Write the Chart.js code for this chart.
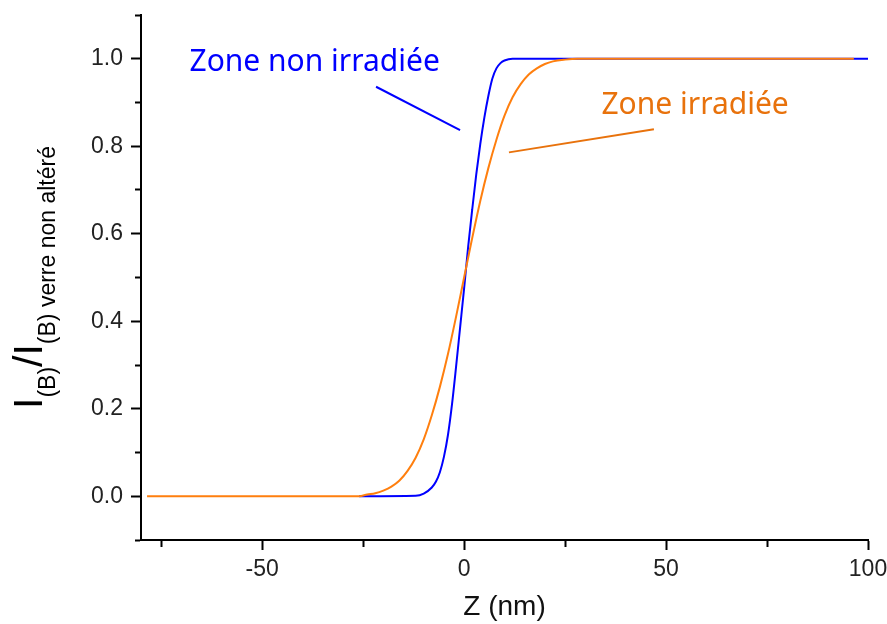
<!DOCTYPE html>
<html>
<head>
<meta charset="utf-8">
<script src="https://cdn.jsdelivr.net/npm/chart.js@4.4.0/dist/chart.umd.min.js"></script>
<style>
  html, body { margin: 0; padding: 0; background: #fff; }
  #wrap { width: 887px; height: 624px; }
</style>
</head>
<body>
<div id="wrap"><canvas id="profileChart"></canvas></div>
<script>
// profiles (Z in nm, normalised intensity)
var blueZ = [-26, -12, -10, -8, -7, -6, -5, -4, -3, -2, -1, 0, 1, 2, 3, 4, 5, 6, 7, 8, 9, 10, 12, 30, 100];
var blueI = [0, 0.001, 0.006, 0.02, 0.033, 0.055, 0.09, 0.14, 0.21, 0.295, 0.385, 0.475, 0.57, 0.655, 0.735, 0.805, 0.865, 0.915, 0.955, 0.978, 0.99, 0.996, 1, 1, 1];

var orangeZ = [-78.5, -26, -24, -22, -20, -18, -16, -14, -12, -10, -8, -6, -4, -2, 0, 2, 4, 6, 8, 10, 12, 14, 16, 18, 20, 22, 25, 28, 96.5];
var orangeI = [0, 0, 0.004, 0.007, 0.013, 0.022, 0.036, 0.058, 0.088, 0.13, 0.185, 0.25, 0.325, 0.41, 0.5, 0.59, 0.675, 0.75, 0.815, 0.87, 0.912, 0.942, 0.964, 0.978, 0.988, 0.994, 0.998, 1, 1];

var seriesNames = ['Zone non irradiée', 'Zone irradiée'];

// text labels and their leader lines, in data units
var noteZ = [-68, 34];
var noteI = [0.972, 0.874];
var leaderBlue = [[-21.8, 0.936], [-1, 0.837]];
var leaderOrange = [[11.1, 0.786], [47, 0.839]];

var BLUE = '#0000ff';
var ORANGE = '#ff7f0e';
var ORANGE_TXT = '#e8720c';

function toPoints(xs, ys) {
    return xs.map((x, i) => ({ x: x, y: ys[i] }));
}

var notesPlugin = {
    id: 'notes',
    afterDraw(chart) {
        var ctx = chart.ctx;
        var sx = chart.scales.x, sy = chart.scales.y;
        ctx.save();
        // leader lines
        var leaders = [[leaderBlue, BLUE], [leaderOrange, ORANGE_TXT]];
        leaders.forEach(function (l) {
            ctx.strokeStyle = l[1];
            ctx.lineWidth = 2;
            ctx.beginPath();
            ctx.moveTo(sx.getPixelForValue(l[0][0][0]), sy.getPixelForValue(l[0][0][1]));
            ctx.lineTo(sx.getPixelForValue(l[0][1][0]), sy.getPixelForValue(l[0][1][1]));
            ctx.stroke();
        });
        // labels
        ctx.font = '30px "Noto Sans"';
        ctx.textBaseline = 'alphabetic';
        ctx.textAlign = 'left';
        [BLUE, ORANGE_TXT].forEach(function (c, i) {
            ctx.fillStyle = c;
            ctx.fillText(seriesNames[i], sx.getPixelForValue(noteZ[i]), sy.getPixelForValue(noteI[i]));
        });

        // y axis title with subscripts, rotated
        var parts = [
            { t: 'I', size: 41, sub: false },
            { t: '(B)', size: 23, sub: true },
            { t: '/', size: 41, sub: false },
            { t: 'I', size: 41, sub: false },
            { t: '(B) verre non altéré', size: 23, sub: true }
        ];
        var total = 0;
        parts.forEach(function (p) {
            ctx.font = p.size + 'px "Liberation Sans", Arial, sans-serif';
            p.w = ctx.measureText(p.t).width;
            total += p.w;
        });
        var cy = (chart.chartArea.top + chart.chartArea.bottom) / 2;
        ctx.translate(42, cy);
        ctx.rotate(-Math.PI / 2);
        ctx.fillStyle = '#000';
        var pos = -total / 2;
        parts.forEach(function (p) {
            ctx.font = p.size + 'px "Liberation Sans", Arial, sans-serif';
            ctx.fillText(p.t, pos, p.sub ? 13 : 0);
            pos += p.w;
        });
        ctx.restore();
    }
};

// minor ticks are drawn as the inner part of a dashed tick
function isMajorX(v) { return Math.abs(v % 50) < 1e-6; }
function isMajorY(v) { return Math.abs(Math.round(v * 10) % 2) === 0; }

var chart = new Chart(document.getElementById('profileChart'), {
    type: 'line',
    data: {
        datasets: [
            {
                label: seriesNames[1],
                data: toPoints(orangeZ, orangeI),
                borderColor: ORANGE,
                borderWidth: 2,
                pointRadius: 0,
                cubicInterpolationMode: 'monotone',
                order: 0
            },
            {
                label: seriesNames[0],
                data: toPoints(blueZ, blueI),
                borderColor: BLUE,
                borderWidth: 2,
                pointRadius: 0,
                cubicInterpolationMode: 'monotone',
                order: 1
            }
        ]
    },
    options: {
        responsive: true,
        maintainAspectRatio: false,
        animation: false,
        layout: { padding: { top: 15, right: 19, left: 0, bottom: 0 } },
        plugins: {
            legend: { display: false },
            tooltip: { enabled: false }
        },
        scales: {
            x: {
                type: 'linear',
                min: -80,
                max: 100,
                border: { color: '#000', width: 2 },
                grid: {
                    drawOnChartArea: false,
                    drawTicks: true,
                    tickLength: 10,
                    tickColor: '#000',
                    tickWidth: 2,
                    tickBorderDash: ctx => isMajorX(ctx.tick.value) ? [] : [6, 20]
                },
                ticks: {
                    stepSize: 25,
                    includeBounds: false,
                    autoSkip: false,
                    maxRotation: 0,
                    padding: 6,
                    color: '#222',
                    font: { family: '"Liberation Sans", Arial, sans-serif', size: 23 },
                    callback: v => isMajorX(v) ? String(v) : ''
                },
                title: {
                    display: true,
                    text: 'Z (nm)',
                    color: '#111',
                    padding: 0,
                    font: { family: '"Liberation Sans", Arial, sans-serif', size: 28 }
                },
                afterFit: s => { s.height = 84; s.paddingLeft = 0; s.paddingRight = 0; }
            },
            y: {
                type: 'linear',
                min: -0.1,
                max: 1.1,
                border: { color: '#000', width: 2 },
                grid: {
                    drawOnChartArea: false,
                    drawTicks: true,
                    tickLength: 10,
                    tickColor: '#000',
                    tickWidth: 2,
                    tickBorderDash: ctx => isMajorY(ctx.tick.value) ? [] : [6, 4],
                    tickBorderDashOffset: ctx => isMajorY(ctx.tick.value) ? 0 : 6
                },
                ticks: {
                    stepSize: 0.1,
                    autoSkip: false,
                    padding: 8,
                    color: '#222',
                    font: { family: '"Liberation Sans", Arial, sans-serif', size: 23 },
                    callback: v => isMajorY(v) ? v.toFixed(1) : ''
                },
                afterFit: s => { s.width = 141; s.paddingTop = 0; s.paddingBottom = 0; }
            }
        }
    },
    plugins: [notesPlugin]
});
</script>
</body>
</html>
